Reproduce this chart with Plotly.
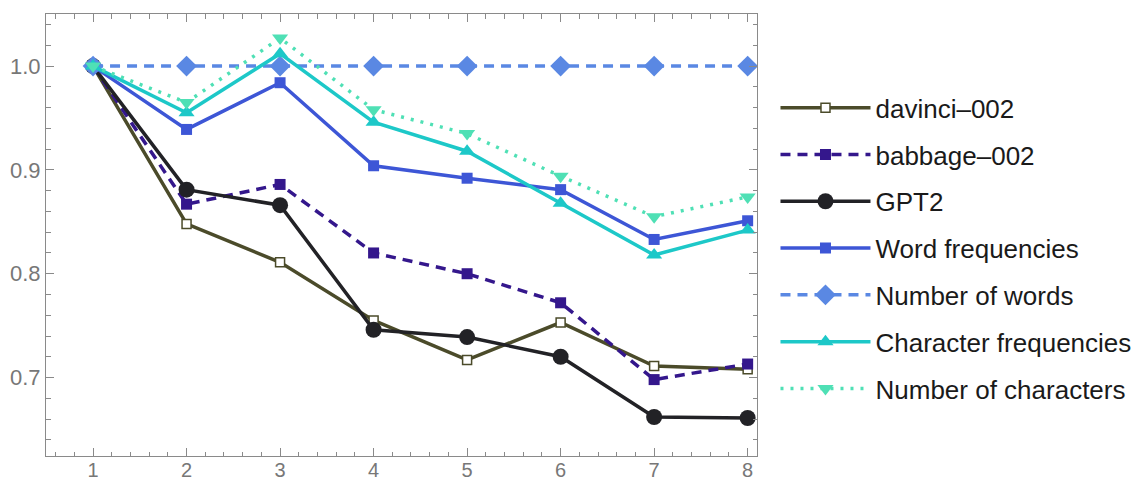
import plotly.graph_objects as go

steps = [1, 2, 3, 4, 5, 6, 7, 8]

series_names = ["davinci\u2013002", "babbage\u2013002", "GPT2", "Word frequencies",
                "Number of words", "Character frequencies", "Number of characters"]

davinci = [1.0, 0.848, 0.811, 0.755, 0.717, 0.753, 0.711, 0.708]
babbage = [1.0, 0.867, 0.886, 0.820, 0.800, 0.772, 0.698, 0.713]
gpt2 = [1.0, 0.881, 0.866, 0.746, 0.739, 0.720, 0.662, 0.661]
word_freq = [1.0, 0.939, 0.984, 0.904, 0.892, 0.881, 0.833, 0.851]
num_words = [1.0, 1.0, 1.0, 1.0, 1.0, 1.0, 1.0, 1.0]
char_freq = [1.0, 0.955, 1.012, 0.946, 0.918, 0.868, 0.818, 0.842]
num_chars = [1.0, 0.965, 1.027, 0.958, 0.935, 0.894, 0.855, 0.874]

values = [davinci, babbage, gpt2, word_freq, num_words, char_freq, num_chars]

styles = [
    dict(color="#4b4b2a", dash="solid", symbol="square", size=9, fill="#ffffff", mline=1.5),
    dict(color="#34178c", dash="10px,7px", symbol="square", size=11, fill=None, mline=0),
    dict(color="#222226", dash="solid", symbol="circle", size=16, fill=None, mline=0),
    dict(color="#3d56d6", dash="solid", symbol="square", size=11, fill=None, mline=0),
    dict(color="#5a88e3", dash="10px,7px", symbol="diamond", size=16, fill=None, mline=0),
    dict(color="#1dc8c8", dash="solid", symbol="triangle-up", size=14, fill=None, mline=0),
    dict(color="#4fe0b5", dash="3px,7px", symbol="triangle-down", size=14, fill=None, mline=0),
]

fig = go.Figure()
for i, (name, vals, st) in enumerate(zip(series_names, values, styles)):
    fill = st["fill"] if st["fill"] else st["color"]
    fig.add_trace(go.Scatter(
        x=steps, y=vals, name=name, mode="lines+markers",
        legendgroup=f"g{i}",
        line=dict(color=st["color"], width=3.5, dash=st["dash"]),
        marker=dict(symbol=st["symbol"], size=st["size"], color=fill,
                    line=dict(color=st["color"], width=st["mline"])),
    ))

axis_common = dict(
    showgrid=False, zeroline=False, showline=True, linecolor="#8a8a8a", linewidth=1,
    mirror="allticks", ticks="inside", tickcolor="#8a8a8a", tickwidth=1, ticklen=8,
    automargin=False,
)

fig.update_xaxes(range=[0.497, 8.1], tickvals=steps, ticktext=[str(s) for s in steps],
                 minor=dict(dtick=0.2, tick0=0, ticks="inside", ticklen=4.5,
                            tickcolor="#8a8a8a", tickwidth=1),
                 tickfont=dict(family="Liberation Sans, Arial, sans-serif", size=20, color="#777777"),
                 ticklabelstandoff=-4, **axis_common)
fig.update_yaxes(range=[0.6244, 1.0502], tickvals=[0.7, 0.8, 0.9, 1.0],
                 ticktext=["0.7", "0.8", "0.9", "1.0"],
                 minor=dict(dtick=0.02, tick0=0, ticks="inside", ticklen=4.5,
                            tickcolor="#8a8a8a", tickwidth=1),
                 tickfont=dict(family="Liberation Sans, Arial, sans-serif", size=22, color="#777777"),
                 ticklabelstandoff=0, **axis_common)

fig.update_layout(
    width=1136, height=472,
    margin=dict(l=38, r=387, t=6, b=24, autoexpand=False),
    paper_bgcolor="white", plot_bgcolor="white",
    showlegend=True,
    legend=dict(x=1.026, xanchor="left", y=0.47, yanchor="middle",
                itemwidth=90, tracegroupgap=10, traceorder="grouped",
                font=dict(family="Liberation Sans, Arial, sans-serif", size=26, color="#1a1a1a"),
                bgcolor="rgba(0,0,0,0)"),
)

fig.write_html("out.html")
